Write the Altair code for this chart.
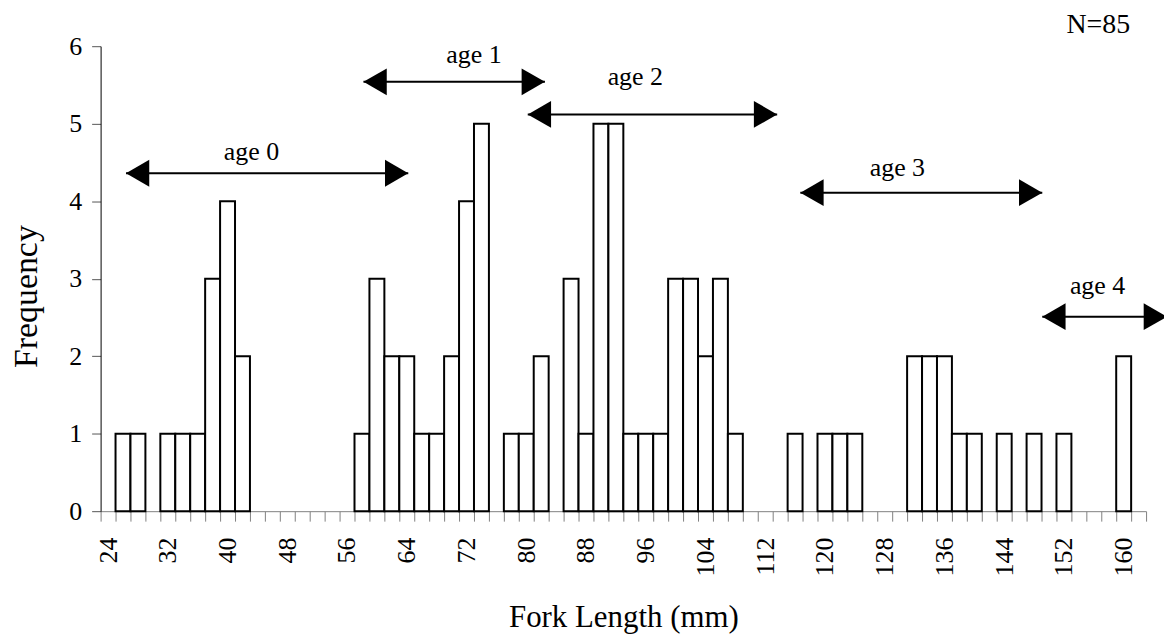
import altair as alt
import pandas as pd

# ---- data ----
fork_length = [24, 26, 28, 30, 32, 34, 36, 38, 40, 42,
               44, 46, 48, 50, 52, 54, 56, 58, 60, 62,
               64, 66, 68, 70, 72, 74, 76, 78, 80, 82,
               84, 86, 88, 90, 92, 94, 96, 98, 100, 102,
               104, 106, 108, 110, 112, 114, 116, 118, 120, 122,
               124, 126, 128, 130, 132, 134, 136, 138, 140, 142,
               144, 146, 148, 150, 152, 154, 156, 158, 160, 162]
frequency = [0, 1, 1, 0, 1, 1, 1, 3, 4, 2,
             0, 0, 0, 0, 0, 0, 0, 1, 3, 2,
             2, 1, 1, 2, 4, 5, 0, 1, 1, 2,
             0, 3, 1, 5, 5, 1, 1, 1, 3, 3,
             2, 3, 1, 0, 0, 0, 1, 0, 1, 1,
             1, 0, 0, 0, 2, 2, 2, 1, 1, 0,
             1, 0, 1, 0, 1, 0, 0, 0, 2, 0]
bin_width = 2

x_label_values = [24, 32, 40, 48, 56, 64, 72, 80, 88, 96, 104, 112, 120, 128, 136, 144, 152, 160]
x_tick_values = [v - bin_width / 2 for v in fork_length] + [fork_length[-1] + bin_width / 2]
y_values = [0, 1, 2, 3, 4, 5, 6]

age_text = ["age 0", "age 1", "age 2", "age 3", "age 4"]
arrow_from = [26.4, 58.2, 80.2, 116.7, 149.1]
arrow_to = [64.2, 82.5, 113.6, 149.1, 165.8]
arrow_y = [4.36, 5.54, 5.12, 4.11, 2.51]
age_text_x = [43.2, 73.0, 94.6, 129.7, 156.5]
age_text_y = [4.63, 5.88, 5.60, 4.43, 2.91]

n_text = ["N=85"]
n_x = [156.6]
n_y = [6.27]

FONT = "Liberation Serif"

hist = pd.DataFrame({"length": fork_length, "count": frequency})
arrows = pd.DataFrame({"label": age_text, "x0": arrow_from, "x1": arrow_to, "y": arrow_y,
                       "tx": age_text_x, "ty": age_text_y})
ntext = pd.DataFrame({"label": n_text, "x": n_x, "y": n_y})

xscale = alt.Scale(domain=[23, 163], nice=False, zero=False)
yscale = alt.Scale(domain=[0, 6], nice=False)

bars = alt.Chart(hist).transform_filter(
    alt.datum["count"] > 0
).transform_calculate(
    x0=f"datum.length - {bin_width / 2}", x1=f"datum.length + {bin_width / 2}"
).mark_rect(fill="white", stroke="black", strokeWidth=2).encode(
    x=alt.X("x0:Q", scale=xscale,
            axis=alt.Axis(orient="bottom", values=x_tick_values, labels=False, title=None,
                          grid=False, tickSize=10, tickColor="#808080", domainColor="#808080",
                          tickWidth=1, domainWidth=1)),
    x2="x1:Q",
    y=alt.Y("count:Q", scale=yscale,
            axis=alt.Axis(orient="left", values=y_values, title="Frequency", grid=False,
                          tickSize=9, tickColor="#555555", domainColor="black",
                          labelFont=FONT, labelFontSize=26, labelColor="black", labelPadding=10,
                          titleFont=FONT, titleFontSize=34, titleFontWeight="normal",
                          titleColor="black", titleAngle=270, titleX=-74, titleY=251,
                          titleAlign="center", titleBaseline="middle")),
    y2=alt.datum(0),
)

lines = alt.Chart(arrows).mark_rule(color="black", strokeWidth=2).encode(
    x=alt.X("x0:Q", scale=xscale,
            axis=alt.Axis(orient="bottom", values=x_label_values, ticks=False, domain=False,
                          grid=False, labelAngle=270, labelFont=FONT, labelFontSize=26,
                          labelColor="black", labelPadding=26, title="Fork Length (mm)",
                          titleFont=FONT, titleFontSize=31, titleFontWeight="normal",
                          titleColor="black", titleY=116, titleBaseline="alphabetic")),
    x2="x1:Q",
    y=alt.Y("y:Q", scale=yscale, axis=None),
)

head_l = alt.Chart(arrows).mark_point(shape="triangle-left", filled=True, size=729,
                                      color="black", opacity=1, xOffset=11.7).encode(
    x=alt.X("x0:Q", scale=xscale, axis=None),
    y=alt.Y("y:Q", scale=yscale, axis=None),
)
head_r = alt.Chart(arrows).mark_point(shape="triangle-right", filled=True, size=729,
                                      color="black", opacity=1, xOffset=-11.7).encode(
    x=alt.X("x1:Q", scale=xscale, axis=None),
    y=alt.Y("y:Q", scale=yscale, axis=None),
)
labels = alt.Chart(arrows).mark_text(font=FONT, fontSize=26, color="black",
                                     baseline="middle", align="center").encode(
    x=alt.X("tx:Q", scale=xscale, axis=None),
    y=alt.Y("ty:Q", scale=yscale, axis=None),
    text="label:N",
)
nlabel = alt.Chart(ntext).mark_text(font=FONT, fontSize=28, color="black",
                                    baseline="middle", align="center").encode(
    x=alt.X("x:Q", scale=xscale, axis=None),
    y=alt.Y("y:Q", scale=yscale, axis=None),
    text="label:N",
)

chart = alt.layer(bars, lines, head_l, head_r, labels, nlabel).resolve_axis(
    x="independent", y="independent"
).properties(
    width=1050, height=467,
    autosize=alt.AutoSizeParams(type="none"),
    padding={"left": 93, "top": 37, "right": 18, "bottom": 125},
    background="white",
).configure_view(stroke=None)

chart.save("out.html", embed_options={"renderer": "svg", "actions": False})
